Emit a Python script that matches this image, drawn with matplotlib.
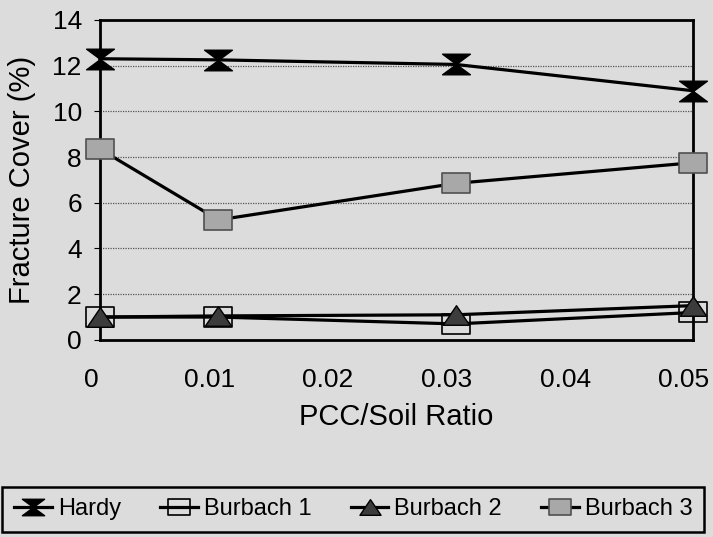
import numpy as np
import matplotlib
matplotlib.use("Agg")
import matplotlib.pyplot as plt
import matplotlib.transforms as mtransforms
from matplotlib.path import Path

# data
ratio = [0, 0.01, 0.03, 0.05]
hardy = [12.3, 12.25, 12.05, 10.9]
burbach1 = [1.0, 1.0, 0.7, 1.2]
burbach2 = [1.0, 1.05, 1.1, 1.5]
burbach3 = [8.35, 5.25, 6.85, 7.75]

xticks = [0, 0.01, 0.02, 0.03, 0.04, 0.05]
xticklabels = ["0", "0.01", "0.02", "0.03", "0.04", "0.05"]
yticks = [0, 2, 4, 6, 8, 10, 12, 14]

bg = "#dcdcdc"
plt.rcParams["font.family"] = ["Liberation Sans", "DejaVu Sans"]

# markers in the scan are a bit wider than tall
w = 1.35
hourglass = Path([(-w, 1), (w, 1), (0, 0), (w, -1), (-w, -1), (0, 0), (-w, 1)],
                 [Path.MOVETO, Path.LINETO, Path.LINETO, Path.LINETO,
                  Path.LINETO, Path.LINETO, Path.CLOSEPOLY])
box = Path([(-w, -1), (w, -1), (w, 1), (-w, 1), (-w, -1)],
           [Path.MOVETO, Path.LINETO, Path.LINETO, Path.LINETO, Path.CLOSEPOLY])
tri = Path([(-w, -1), (w, -1), (0, 1), (-w, -1)],
           [Path.MOVETO, Path.LINETO, Path.LINETO, Path.CLOSEPOLY])

fig = plt.figure(figsize=(7.13, 5.37), dpi=100, facecolor=bg)
ax = fig.add_axes([0.140, 0.367, 0.832, 0.596], facecolor=bg)

lw = 2.3
ax.plot(ratio, hardy, color="black", lw=lw, marker=hourglass, ms=20,
        mfc="black", mec="black", clip_on=False, label="Hardy", zorder=5)
ax.plot(ratio, burbach1, color="black", lw=lw, marker=box, ms=20,
        mfc="none", mec="black", mew=1.2, clip_on=False, label="Burbach 1", zorder=4)
ax.plot(ratio, burbach2, color="black", lw=lw, marker=tri, ms=19,
        mfc="#3c3c3c", mec="black", mew=1.0, clip_on=False, label="Burbach 2", zorder=5)
ax.plot(ratio, burbach3, color="black", lw=lw, marker=box, ms=20,
        mfc="#a8a8a8", mec="#505050", mew=1.2, clip_on=False, label="Burbach 3", zorder=5)

ax.set_xlim(0, 0.05)
ax.set_ylim(0, 14)
ax.set_xticks(xticks)
ax.set_xticklabels(xticklabels)
ax.set_yticks(yticks)
ax.tick_params(axis="x", length=0, pad=20, labelsize=19)
ax.tick_params(axis="y", length=4, direction="out", pad=9, labelsize=19)
ax.yaxis.grid(True, linestyle=(0, (1, 1)), color="#555555", lw=0.9)
for s in ax.spines.values():
    s.set_linewidth(2)

# tick labels sit a little left of their ticks in the original
shift = mtransforms.ScaledTranslation(-9 / 100, 0, fig.dpi_scale_trans)
for lab in ax.get_xticklabels():
    lab.set_transform(lab.get_transform() + shift)

ax.set_xlabel("PCC/Soil Ratio", fontsize=21, labelpad=8)
ax.set_ylabel("Fracture Cover (%)", fontsize=21, labelpad=12)

leg = fig.legend(loc="lower left", bbox_to_anchor=(0.003, 0.009, 0.985, 0.088),
                 mode="expand", ncol=4, fontsize=17, frameon=True, fancybox=False,
                 edgecolor="black", facecolor=bg, handlelength=1.6,
                 handletextpad=0.25, columnspacing=0.3, borderaxespad=0,
                 borderpad=0.5, markerscale=0.8)
leg.get_frame().set_linewidth(1.8)
leg.get_frame().set_alpha(1)

fig.savefig("out.png", dpi=100, facecolor=bg)
